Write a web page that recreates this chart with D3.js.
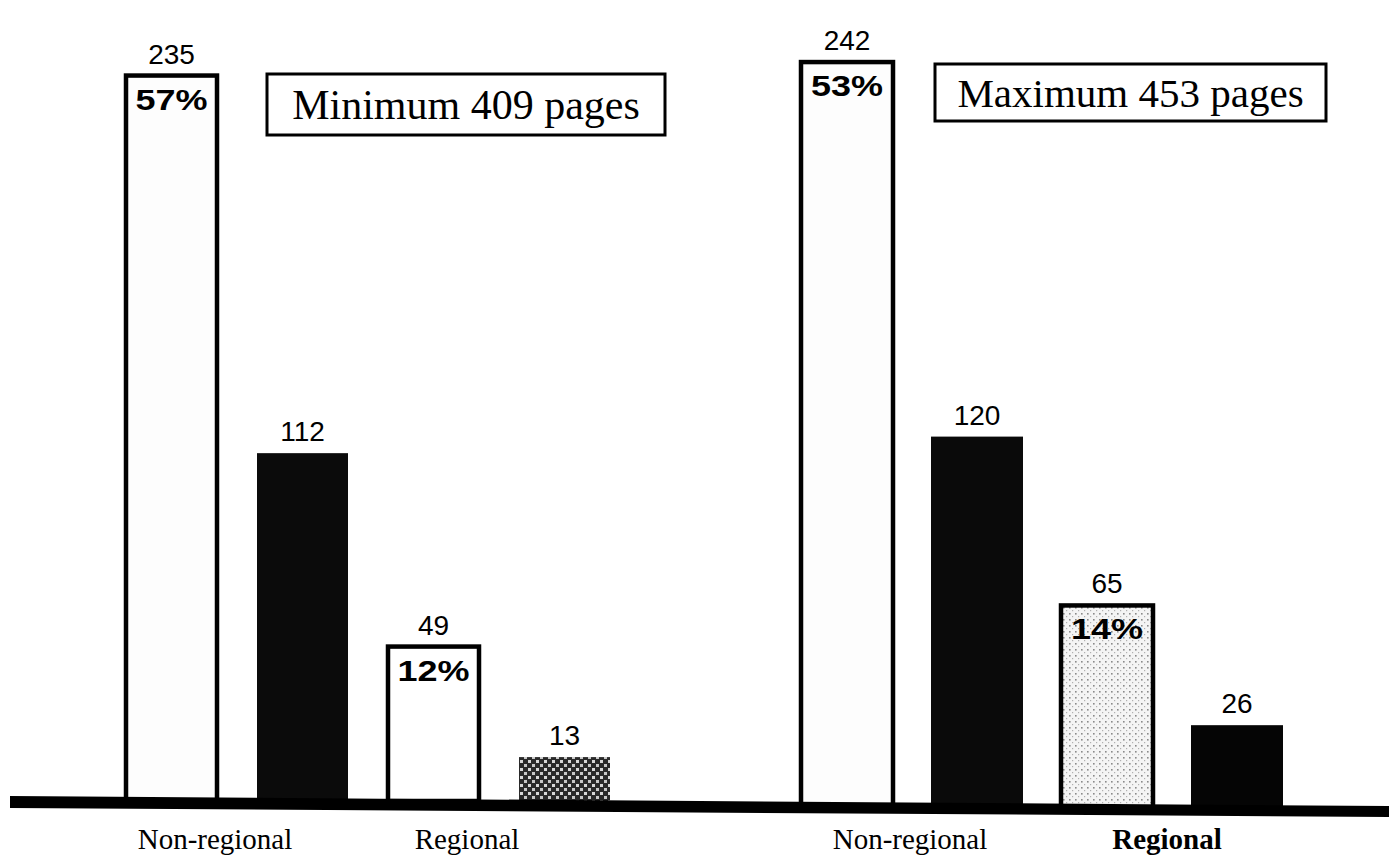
<!DOCTYPE html>
<html>
<head>
<meta charset="utf-8">
<script src="https://cdn.jsdelivr.net/npm/d3@7"></script>
<style>
  html, body { margin: 0; padding: 0; background: #fff; }
  svg { display: block; }
</style>
</head>
<body>
<svg id="chart" width="1389" height="860"></svg>
<script>
// ---------- data ----------
const panelTitles = ["Minimum 409 pages", "Maximum 453 pages"];
const groupLabels = ["Non-regional", "Regional"];
const barKeys = ["nr1", "nr2", "r1", "r2"];            // two bars per group
const minValues = [235, 112, 49, 13];
const maxValues = [242, 120, 65, 26];
const minPercents = ["57%", null, "12%", null];
const maxPercents = ["53%", null, "14%", null];

// ---------- layout ----------
const W = 1389, H = 860;
const svg = d3.select("#chart");

const defs = svg.append("defs");
// light stipple pattern
const dots = defs.append("pattern").attr("id", "dots").attr("patternUnits", "userSpaceOnUse")
  .attr("width", 6).attr("height", 6);
dots.append("rect").attr("width", 6).attr("height", 6).attr("fill", "#f4f4f4");
dots.append("rect").attr("x", 1).attr("y", 1).attr("width", 1.6).attr("height", 1.6).attr("fill", "#8a8a8a");
dots.append("rect").attr("x", 4).attr("y", 4).attr("width", 1.2).attr("height", 1.2).attr("fill", "#b0b0b0");
// dark checker pattern
const chk = defs.append("pattern").attr("id", "checker").attr("patternUnits", "userSpaceOnUse")
  .attr("width", 8).attr("height", 8);
chk.append("rect").attr("width", 8).attr("height", 8).attr("fill", "#2a2a2a");
chk.append("rect").attr("x", 0).attr("y", 0).attr("width", 3).attr("height", 3).attr("fill", "#d8d8d8");
chk.append("rect").attr("x", 4).attr("y", 4).attr("width", 3).attr("height", 3).attr("fill", "#c8c8c8");

const panels = [
  { title: panelTitles[0], values: minValues, percents: minPercents,
    x0: 126, step: 131, bandW: 91, base: 797, box: { x: 267, y: 74, w: 398, h: 61 }, titleSize: 42,
    fills: ["#fdfdfd", "#0b0b0b", "#ffffff", "url(#checker)"],
    strokes: [true, false, true, false],
    catX: [215, 467], catBold: [false, false] },
  { title: panelTitles[1], values: maxValues, percents: maxPercents,
    x0: 801, step: 130, bandW: 92, base: 805, box: { x: 935, y: 64, w: 391, h: 57 }, titleSize: 41,
    fills: ["#fdfdfd", "#0a0a0a", "url(#dots)", "#050505"],
    strokes: [true, false, true, false],
    catX: [910, 1167], catBold: [false, true] }
];

const h = d3.scaleLinear().domain([0, 250]).range([0, 767.5]);

panels.forEach(p => {
  const x = d3.scaleBand().domain(barKeys)
    .range([p.x0, p.x0 + 3 * p.step + p.bandW])
    .paddingInner(1 - p.bandW / p.step).paddingOuter(0);
  const g = svg.append("g");

  const data = barKeys.map((k, i) => ({ key: k, v: p.values[i], pct: p.percents[i], i }));

  g.selectAll("rect.bar").data(data).enter().append("rect")
    .attr("class", "bar")
    .attr("x", d => x(d.key))
    .attr("y", d => p.base - h(d.v))
    .attr("width", x.bandwidth())
    .attr("height", d => h(d.v) + 4)
    .attr("fill", d => p.fills[d.i])
    .attr("stroke", d => p.strokes[d.i] ? "#000" : "none")
    .attr("stroke-width", 4.5);

  g.selectAll("text.val").data(data).enter().append("text")
    .attr("class", "val")
    .attr("x", d => x(d.key) + x.bandwidth() / 2)
    .attr("y", d => p.base - h(d.v) - 12)
    .attr("text-anchor", "middle")
    .attr("font-family", "'Liberation Sans', Arial, sans-serif")
    .attr("font-size", 28)
    .attr("fill", "#000")
    .text(d => d.v);

  g.selectAll("text.pct").data(data.filter(d => d.pct)).enter().append("text")
    .attr("class", "pct")
    .attr("x", d => x(d.key) + x.bandwidth() / 2)
    .attr("y", d => p.base - h(d.v) + 34)
    .attr("text-anchor", "middle")
    .attr("font-family", "'Liberation Sans', Arial, sans-serif")
    .attr("font-weight", "bold")
    .attr("font-size", 30)
    .attr("textLength", 72)
    .attr("lengthAdjust", "spacingAndGlyphs")
    .attr("fill", "#000")
    .text(d => d.pct);

  // title box
  g.append("rect")
    .attr("x", p.box.x).attr("y", p.box.y).attr("width", p.box.w).attr("height", p.box.h)
    .attr("fill", "#fff").attr("stroke", "#000").attr("stroke-width", 3);
  g.append("text")
    .attr("x", p.box.x + p.box.w / 2).attr("y", p.box.y + p.box.h / 2 + 14)
    .attr("text-anchor", "middle")
    .attr("font-family", "'Liberation Serif', 'Times New Roman', serif")
    .attr("font-size", p.titleSize)
    .text(p.title);

  // category labels
  g.selectAll("text.cat").data(groupLabels).enter().append("text")
    .attr("class", "cat")
    .attr("x", (d, i) => p.catX[i])
    .attr("y", 849)
    .attr("text-anchor", "middle")
    .attr("font-family", "'Liberation Serif', 'Times New Roman', serif")
    .attr("font-weight", (d, i) => p.catBold[i] ? "bold" : "normal")
    .attr("font-size", 29)
    .text(d => d);
});

// thick, slightly sloping baseline
const baseLine = d3.line();
svg.append("path")
  .attr("d", baseLine([[10, 796], [W, 806], [W, 817], [10, 808]]) + "Z")
  .attr("fill", "#000");
</script>
</body>
</html>
